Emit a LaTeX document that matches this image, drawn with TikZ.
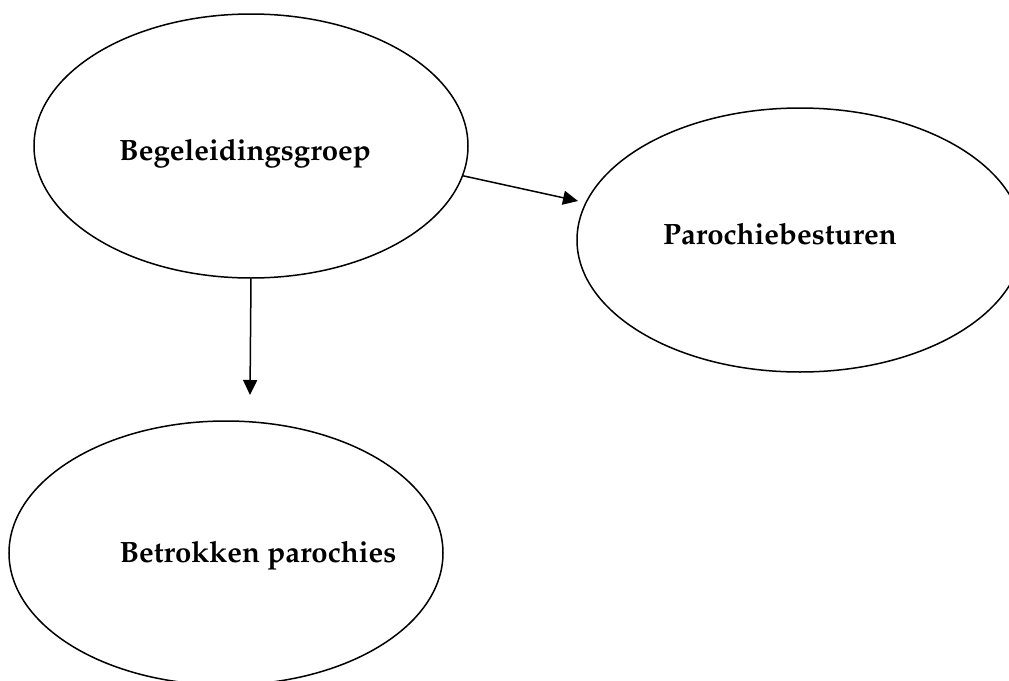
\documentclass[tikz,border=0pt]{standalone}
\usepackage[T1]{fontenc}
\usepackage{mathpazo}
\usepackage{tikz}
\usetikzlibrary{arrows.meta,shapes.geometric}

\begin{document}
\begin{tikzpicture}[
    x=0.5pt, y=-0.5pt,
    groupshape/.style={
        draw, ellipse, line width=0.75pt,
        minimum width=217pt, minimum height=132pt, inner sep=0pt
    },
    grouptext/.style={font=\fontsize{14.7}{18}\selectfont\bfseries},
    arrow/.style={-{Triangle[length=7.5pt,width=7pt]}, line width=0.75pt},
]
    \useasboundingbox (0,0) rectangle (1009,681);

    % three ellipses
    \node[groupshape] (beg) at (251,146) {};
    \node[groupshape, minimum width=223pt] (bestuur) at (800,240) {};
    \node[groupshape] (betrok) at (226,553) {};

    % texts
    \node[grouptext] (begtxt) at (245,154) {Begeleidingsgroep};
    \node[grouptext] (bestuurtxt) at (780,234) {Parochiebesturen};
    \node[grouptext] (betroktxt) at (258,556) {Betrokken parochies};

    % arrow ends
    \coordinate (downend) at (250,395);
    \coordinate (rightend) at (578,201);

    % arrows
    \draw[arrow] (beg.south) -- (downend);
    \draw[arrow] (beg.-8.5) -- (rightend);
\end{tikzpicture}
\end{document}
